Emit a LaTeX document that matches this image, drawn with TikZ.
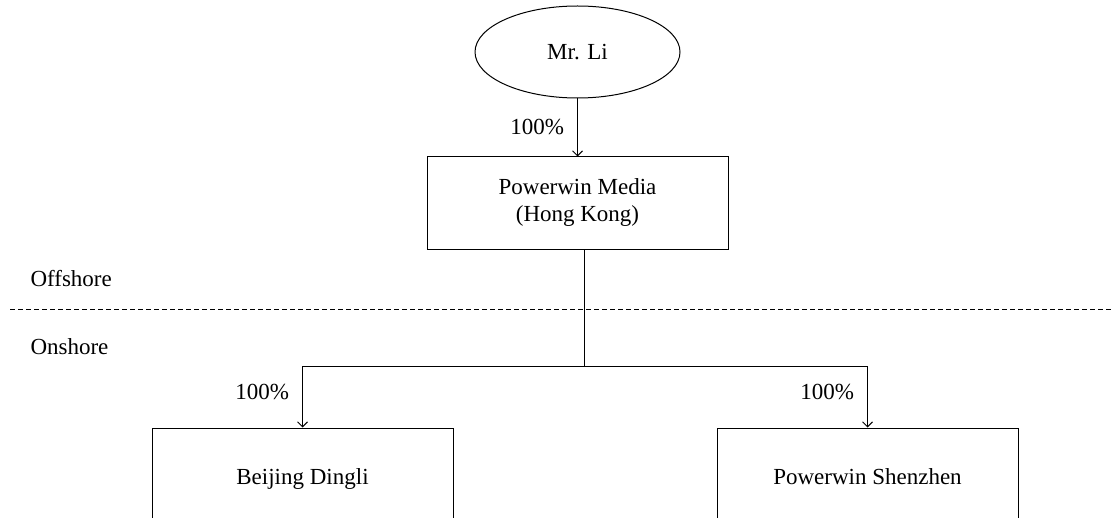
\documentclass[tikz,border=0pt]{standalone}
\usepackage{fontspec}
\setmainfont{Liberation Serif}
\usetikzlibrary{shapes.geometric}
\usetikzlibrary{arrows.meta}
\usetikzlibrary{positioning}

\begin{document}
\begin{tikzpicture}[x=0.5pt,y=-0.5pt,line width=0.5pt,
  font=\fontsize{11.5}{13.5}\selectfont,
  holder/.style={draw,ellipse,minimum width=102.5pt,minimum height=46pt,inner sep=0pt},
  firm/.style={draw,rectangle,minimum width=150.5pt,minimum height=46pt,align=center},
  share/.style={left,inner sep=0pt,xshift=-6.5pt},
  own/.style={-{Straight Barb[length=2.5pt,width=5pt]}},
  zone/.style={anchor=west,inner sep=0pt}]
\useasboundingbox (0,0) rectangle (1112,518);

% Actionnaire et holding
\node[holder] (li) at (577.5,52) {Mr. Li};
\node[firm,below=29pt of li] (hk) {Powerwin Media\\(Hong Kong)};
\draw[own] (li) -- node[share] {100\%} (hk);

% Offshore / onshore
\draw[dash pattern=on 2.5pt off 1.5pt] (10,309) -- (1112,309);
\node[zone] (off) at (30,279) {Offshore};
\node[zone] (on) at (30,347) {Onshore};

% Filiales
\node[firm,minimum height=49pt,text depth=0pt] (bj) at (302.5,477) {Beijing Dingli};
\node[firm,minimum height=49pt,text depth=0pt] (sz) at (867.5,477) {Powerwin Shenzhen};
\coordinate (split) at (584.5,366);
\draw (hk.south -| split) -- (split);
\draw[own] (split) -| node[share,pos=0.71] {100\%} (bj.north);
\draw[own] (split) -| node[share,pos=0.71] {100\%} (sz.north);
\end{tikzpicture}
\end{document}
